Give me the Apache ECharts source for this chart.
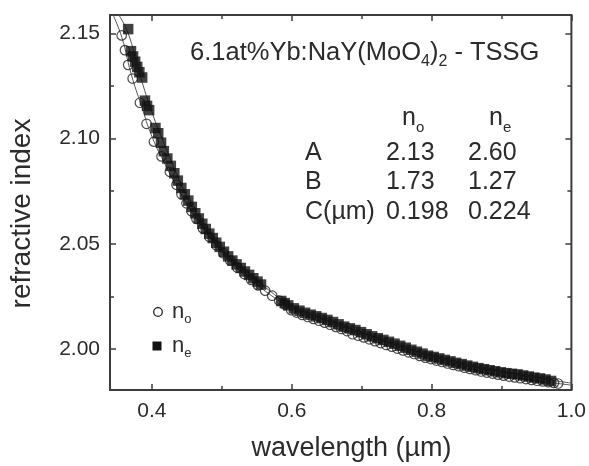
<!DOCTYPE html>
<html>
<head>
<meta charset="utf-8">
<script src="https://cdn.jsdelivr.net/npm/echarts@6/dist/echarts.min.js"></script>
<style>
  html, body { margin: 0; padding: 0; background: #fff; }
  #chart { width: 589px; height: 466px; }
</style>
</head>
<body>
<div id="chart"></div>
<script>
// Wavelength (µm) and refractive index, ordinary ray (open circles)
const noData = [
  [0.3567, 2.1490], [0.3614, 2.1420], [0.366, 2.1350], [0.3724, 2.1285], [0.3828, 2.1170],
  [0.3923, 2.1070], [0.4028, 2.0985], [0.4137, 2.0915], [0.4256, 2.0842], [0.4351, 2.0780],
  [0.4423, 2.0735], [0.4494, 2.0692], [0.4565, 2.0655], [0.4637, 2.0618], [0.473, 2.0573],
  [0.482, 2.0533], [0.492, 2.0493], [0.502, 2.0455], [0.512, 2.0420], [0.522, 2.0387],
  [0.532, 2.0356], [0.542, 2.0328], [0.552, 2.0302], [0.562, 2.0277], [0.572, 2.0253],
  [0.582, 2.0230], [0.590, 2.0212],
  [0.599, 2.0185], [0.607, 2.0173], [0.615, 2.0162], [0.623, 2.0152], [0.631, 2.0143],
  [0.639, 2.0134], [0.647, 2.0125], [0.655, 2.0115], [0.663, 2.0105], [0.671, 2.0095],
  [0.679, 2.0085], [0.687, 2.0070], [0.695, 2.0063], [0.703, 2.0055], [0.711, 2.0046],
  [0.719, 2.0037], [0.727, 2.0028], [0.735, 2.0019], [0.743, 2.0011], [0.751, 2.0002],
  [0.759, 1.9993], [0.767, 1.9984], [0.775, 1.9976], [0.783, 1.9967], [0.791, 1.9959],
  [0.799, 1.9952], [0.807, 1.9945], [0.815, 1.9938], [0.823, 1.9931], [0.831, 1.9924],
  [0.839, 1.9918], [0.847, 1.9911], [0.855, 1.9905], [0.863, 1.9899], [0.871, 1.9893],
  [0.879, 1.9888], [0.887, 1.9883], [0.895, 1.9878], [0.903, 1.9873], [0.911, 1.9869],
  [0.919, 1.9865], [0.927, 1.9861], [0.935, 1.9857], [0.943, 1.9853], [0.951, 1.9849],
  [0.959, 1.9846], [0.967, 1.9842], [0.975, 1.9839], [0.981, 1.9836]
];

// Extraordinary ray (filled squares)
const neData = [
  [0.366, 2.152], [0.370, 2.1415], [0.373, 2.139], [0.376, 2.1365], [0.379, 2.134],
  [0.382, 2.1315], [0.386, 2.129], [0.390, 2.118], [0.393, 2.1155], [0.396, 2.1135],
  [0.405, 2.105], [0.409, 2.1025], [0.413, 2.098], [0.417, 2.094], [0.422, 2.0905],
  [0.427, 2.087], [0.432, 2.0835], [0.437, 2.080], [0.442, 2.0765], [0.447, 2.0735],
  [0.452, 2.0705], [0.457, 2.0675], [0.462, 2.0645], [0.467, 2.062], [0.472, 2.0595],
  [0.477, 2.057], [0.482, 2.0548], [0.487, 2.0527], [0.492, 2.0505], [0.497, 2.0485],
  [0.503, 2.0462], [0.509, 2.044], [0.515, 2.042], [0.521, 2.0402], [0.527, 2.0385],
  [0.533, 2.0368], [0.539, 2.0352], [0.545, 2.0336], [0.551, 2.032], [0.556, 2.0306],
  [0.585, 2.0228], [0.590, 2.0218],
  [0.595, 2.0207], [0.603, 2.0193], [0.611, 2.0182], [0.619, 2.0172], [0.627, 2.0163],
  [0.635, 2.0155], [0.643, 2.0147], [0.651, 2.0138], [0.659, 2.0128], [0.667, 2.0117],
  [0.675, 2.0106], [0.683, 2.0098], [0.691, 2.0090], [0.699, 2.0080], [0.707, 2.0070],
  [0.715, 2.0060], [0.723, 2.0051], [0.731, 2.0043], [0.739, 2.0034], [0.747, 2.0025],
  [0.755, 2.0015], [0.763, 2.0006], [0.771, 1.9996], [0.779, 1.9987], [0.787, 1.9978],
  [0.795, 1.9968], [0.803, 1.9962], [0.811, 1.9955], [0.819, 1.9948], [0.827, 1.9941],
  [0.835, 1.9934], [0.843, 1.9928], [0.851, 1.9921], [0.859, 1.9915], [0.867, 1.9909],
  [0.875, 1.9904], [0.883, 1.9899], [0.891, 1.9894], [0.899, 1.9889], [0.907, 1.9885],
  [0.915, 1.9882], [0.923, 1.9879], [0.931, 1.9874], [0.939, 1.9869], [0.947, 1.9864],
  [0.955, 1.9860], [0.963, 1.9855], [0.971, 1.9848]
];

// Sellmeier fit curves as traced
const noFit = [
  [0.344, 2.159], [0.357, 2.148], [0.37, 2.131], [0.385, 2.1155], [0.40, 2.101],
  [0.42, 2.087], [0.44, 2.0745], [0.46, 2.0635], [0.49, 2.050], [0.52, 2.039],
  [0.56, 2.028], [0.60, 2.0195], [0.65, 2.0115], [0.70, 2.0055], [0.75, 2.0002],
  [0.80, 1.9952], [0.85, 1.991], [0.90, 1.9875], [0.95, 1.985], [1.0, 1.9828]
];
const neFit = [
  [0.352, 2.159], [0.366, 2.150], [0.38, 2.1335], [0.40, 2.1125], [0.42, 2.0955],
  [0.44, 2.0795], [0.46, 2.0658], [0.49, 2.0512], [0.52, 2.0405], [0.56, 2.0298],
  [0.60, 2.0205], [0.65, 2.0135], [0.70, 2.0078], [0.75, 2.0018], [0.80, 1.9965],
  [0.85, 1.9922], [0.90, 1.989], [0.95, 1.9862], [1.0, 1.9838]
];

// Tick positions
const xMajor = [0.4, 0.6, 0.8, 1.0];
const xMinor = [0.5, 0.7, 0.9];
const yMajor = [2.00, 2.05, 2.10, 2.15];
const yMinor = [2.025, 2.075, 2.125];

// Fit-parameter table
const tableRows = [
  ['A', '2.13', '2.60'],
  ['B', '1.73', '1.27'],
  ['C(\u00b5m)', '0.198', '0.224']
];

const FONT = '"Liberation Sans", Arial, Helvetica, sans-serif';
const INK = '#2b2b2b';
const AXIS = '#3c3c3c';

const X_MIN = 0.34, X_MAX = 1.0;
const Y_MIN = 1.9805, Y_MAX = 2.1587;

function xAx(extra) {
  return Object.assign({
    type: 'value', min: X_MIN, max: X_MAX, gridIndex: 0,
    splitLine: { show: false },
    axisLine: { show: false },
    axisLabel: { show: false },
    axisTick: { show: false }
  }, extra);
}
function yAx(extra) {
  return Object.assign({
    type: 'value', min: Y_MIN, max: Y_MAX, gridIndex: 0,
    splitLine: { show: false },
    axisLine: { show: false },
    axisLabel: { show: false },
    axisTick: { show: false }
  }, extra);
}

const tickStyle = { color: AXIS, width: 1.5 };

function subText(left, top, main, size, subSize, drop) {
  return {
    type: 'text', left: left, top: top, z: 10,
    style: {
      rich: {
        m: { fontFamily: FONT, fontSize: size, fill: INK },
        s: { fontFamily: FONT, fontSize: subSize, fill: INK, padding: [drop, 0, 0, 0] }
      },
      text: main
    }
  };
}

const chart = echarts.init(document.getElementById('chart'), null, { renderer: 'canvas' });

const graphics = [];

// Axis titles
graphics.push({
  type: 'text', x: 351.5, y: 449, z: 10,
  style: { text: 'wavelength (\u00b5m)', fontFamily: FONT, fontSize: 27, fill: INK,
           align: 'center', verticalAlign: 'middle', textAlign: 'center', textVerticalAlign: 'middle' }
});
graphics.push({
  type: 'text', x: 22.5, y: 213.5, rotation: Math.PI / 2, z: 10,
  style: { text: 'refractive index', fontFamily: FONT, fontSize: 28, fill: INK,
           align: 'center', verticalAlign: 'middle', textAlign: 'center', textVerticalAlign: 'middle' }
});

// Sample title with subscripts
graphics.push(subText(190, 40, '{m|6.1at%Yb:NaY(MoO}{s|4}{m|)}{s|2}{m| - TSSG}', 25.5, 16, 17));

// Table header and rows
const colX = [305, 386, 468];
graphics.push(subText(402, 106, '{m|n}{s|o}', 25, 15, 18));
graphics.push(subText(489, 106, '{m|n}{s|e}', 25, 15, 18));
tableRows.forEach((row, i) => {
  row.forEach((cell, j) => {
    graphics.push({
      type: 'text', left: colX[j], top: 140.5 + i * 29.5, z: 10,
      style: { text: cell, fontFamily: FONT, fontSize: 25, fill: INK }
    });
  });
});

// Legend
graphics.push({
  type: 'circle', z: 10,
  shape: { cx: 158, cy: 312, r: 4.3 },
  style: { fill: 'none', stroke: '#222', lineWidth: 1.3 }
});
graphics.push({
  type: 'rect', z: 10,
  shape: { x: 152.5, y: 341.5, width: 9, height: 9 },
  style: { fill: '#111' }
});
graphics.push(subText(172, 301, '{m|n}{s|o}', 22, 13, 15));
graphics.push(subText(172, 335, '{m|n}{s|e}', 22, 13, 15));

const option = {
  animation: false,
  backgroundColor: '#fff',
  grid: { left: 110, right: 17, top: 15, bottom: 76, containLabel: false,
          show: true, borderColor: AXIS, borderWidth: 2, backgroundColor: 'transparent' },
  xAxis: [
    xAx({
      position: 'bottom',
      axisLabel: { show: true, customValues: xMajor, fontFamily: FONT, fontSize: 21, color: INK, margin: 11,
                   formatter: v => v.toFixed(1) },
      axisTick: { show: true, customValues: xMajor, inside: true, length: 6, lineStyle: tickStyle }
    }),
    xAx({ position: 'bottom',
      axisTick: { show: true, customValues: xMinor, inside: true, length: 4, lineStyle: tickStyle } }),
    xAx({ position: 'top',
      axisTick: { show: true, customValues: xMajor, inside: true, length: 6, lineStyle: tickStyle } }),
    xAx({ position: 'top',
      axisTick: { show: true, customValues: xMinor, inside: true, length: 4, lineStyle: tickStyle } })
  ],
  yAxis: [
    yAx({
      position: 'left',
      axisLabel: { show: true, customValues: yMajor, fontFamily: FONT, fontSize: 21, color: INK, margin: 10,
                   formatter: v => v.toFixed(2) },
      axisTick: { show: true, customValues: yMajor, inside: true, length: 6, lineStyle: tickStyle }
    }),
    yAx({ position: 'left',
      axisTick: { show: true, customValues: yMinor, inside: true, length: 4, lineStyle: tickStyle } }),
    yAx({ position: 'right',
      axisTick: { show: true, customValues: yMajor, inside: true, length: 6, lineStyle: tickStyle } }),
    yAx({ position: 'right',
      axisTick: { show: true, customValues: yMinor, inside: true, length: 4, lineStyle: tickStyle } })
  ],
  series: [
    {
      name: 'n_o fit', type: 'line', data: noFit, smooth: true, showSymbol: false, clip: true,
      lineStyle: { color: '#555', width: 1 }, z: 1
    },
    {
      name: 'n_e fit', type: 'line', data: neFit, smooth: true, showSymbol: false, clip: true,
      lineStyle: { color: '#555', width: 1 }, z: 1
    },
    {
      name: 'n_o', type: 'scatter', data: noData, symbol: 'circle', symbolSize: 9.5,
      itemStyle: { color: 'rgba(255,255,255,0)', borderColor: '#222', borderWidth: 1.2 }, z: 2
    },
    {
      name: 'n_e', type: 'scatter', data: neData, symbol: 'rect', symbolSize: 10.5,
      itemStyle: { color: '#111' }, z: 3
    }
  ],
  graphic: graphics
};

chart.setOption(option);
</script>
</body>
</html>
